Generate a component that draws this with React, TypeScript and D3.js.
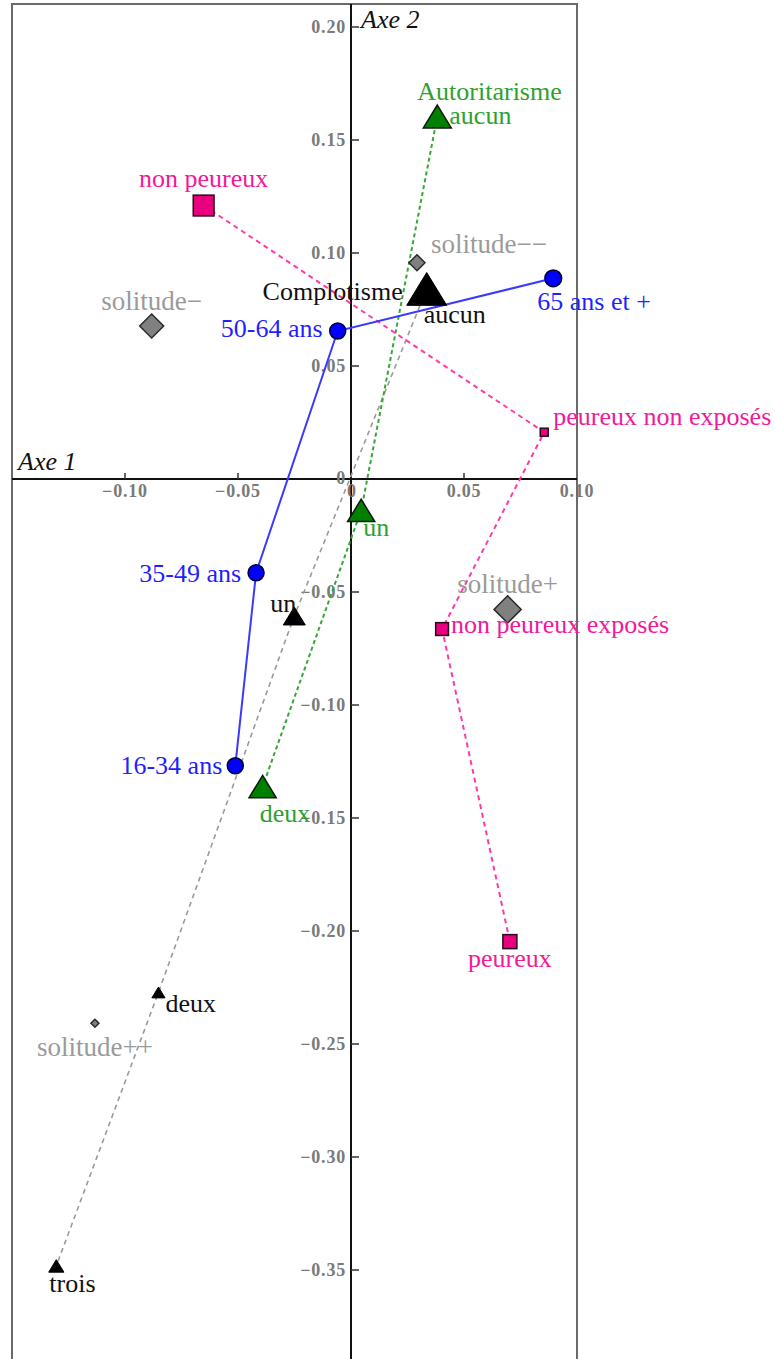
import React from "react";
import * as d3 from "d3";

// ---- Data (coordinates on factorial axes) ----
const ageLabels = ["65 ans et +", "50-64 ans", "35-49 ans", "16-34 ans"];
const ageAxe1 = [0.0895, -0.0059, -0.042, -0.0512];
const ageAxe2 = [0.0888, 0.0655, -0.0415, -0.1269];
const ageWeight = [4.2, 4.0, 4.0, 4.0];

const peurLabels = ["non peureux", "peureux non exposés", "non peureux exposés", "peureux"];
const peurAxe1 = [-0.0652, 0.0855, 0.0403, 0.0703];
const peurAxe2 = [0.121, 0.0207, -0.0664, -0.2047];
const peurWeight = [5.2, 2.0, 3.2, 3.5];

const autoLabels = ["aucun", "un", "deux"];
const autoAxe1 = [0.0382, 0.0045, -0.0391];
const autoAxe2 = [0.1604, -0.0139, -0.1361];
const autoWeight = [7.0, 6.8, 6.8];

const complLabels = ["aucun", "un", "deux", "trois"];
const complAxe1 = [0.0335, -0.0251, -0.0852, -0.1304];
const complAxe2 = [0.0841, -0.0606, -0.2272, -0.3482];
const complWeight = [10.0, 5.5, 3.3, 3.8];

const solLabels = ["solitude−−", "solitude−", "solitude+", "solitude++"];
const solAxe1 = [0.0292, -0.0882, 0.0693, -0.1133];
const solAxe2 = [0.0957, 0.0677, -0.0577, -0.2408];
const solWeight = [4.0, 6.0, 6.8, 2.0];

const xTicks = [-0.1, -0.05, 0, 0.05, 0.1];
const yTicks = [0.2, 0.15, 0.1, 0.05, 0, -0.05, -0.1, -0.15, -0.2, -0.25, -0.3, -0.35];

// ---- Layout (label placement in px relative to the point) ----
const ageLabelPos = [
  { dx: -16, dy: 32, a: "start" },
  { dx: -15, dy: 6, a: "end" },
  { dx: -15, dy: 9, a: "end" },
  { dx: -13, dy: 8, a: "end" },
];
const peurLabelPos = [
  { dx: 0, dy: -19, a: "middle" },
  { dx: 9, dy: -7, a: "start" },
  { dx: 9, dy: 4, a: "start" },
  { dx: 0, dy: 25, a: "middle" },
];
const autoLabelPos = [
  { dx: 12, dy: 8, a: "start" },
  { dx: 2, dy: 26, a: "start" },
  { dx: -3, dy: 35, a: "start" },
];
const complLabelPos = [
  { dx: -3, dy: 34, a: "start" },
  { dx: 2, dy: -4, a: "end" },
  { dx: 7, dy: 20, a: "start" },
  { dx: -7, dy: 26, a: "start" },
];
const solLabelPos = [
  { dx: 14, dy: -10, a: "start" },
  { dx: 0, dy: -16, a: "middle" },
  { dx: 0, dy: -16, a: "middle" },
  { dx: 0, dy: 33, a: "middle" },
];

const W = 775;
const H = 1359;
const FONT = "'Liberation Serif', 'Times New Roman', serif";

const x = d3.scaleLinear().domain([-0.15, 0.1]).range([12, 577]);
const y = d3.scaleLinear().domain([0.21, -0.39]).range([4.4, 1360.4]);
const size = d3.scaleLinear().domain([0, 10]).range([0, 40]);

const fmt = (v: number) => (Math.abs(v) < 1e-9 ? "0" : d3.format(".2f")(v).replace("-", "−"));

function tri(cx: number, cy: number, w: number) {
  const h = w * 0.82;
  return `M${cx},${cy - h / 2}L${cx + w / 2},${cy + h / 2}L${cx - w / 2},${cy + h / 2}Z`;
}
function diamond(cx: number, cy: number, r: number) {
  return `M${cx},${cy - r}L${cx + r},${cy}L${cx},${cy + r}L${cx - r},${cy}Z`;
}

const line = d3
  .line<[number, number]>()
  .x((d) => x(d[0]))
  .y((d) => y(d[1]));

function pts(a: number[], b: number[]): [number, number][] {
  return a.map((v, i) => [v, b[i]]);
}

export default function App() {
  const x0 = x(0);
  const y0 = y(0);
  const blue = "#1f1fff";
  const pink = "#f2199a";
  const green = "#2ea02e";
  const gray = "#9a9a9a";
  const tickFill = "#7a7a7a";

  return (
    <svg
      width={W}
      height={H}
      style={{ position: "absolute", left: 0, top: 0, background: "#fff" }}
      fontFamily={FONT}
    >
      <rect x={0} y={0} width={W} height={H} fill="#fff" />
      {/* frame */}
      <rect x={12} y={4} width={565} height={1400} fill="none" stroke="#6a6a6a" strokeWidth={2} />
      {/* axes */}
      <line x1={12} x2={577} y1={y0} y2={y0} stroke="#111" strokeWidth={2} />
      <line x1={x0} x2={x0} y1={4} y2={H} stroke="#111" strokeWidth={2} />
      {xTicks.filter((t) => t !== 0 && t !== 0.1).map((t) => (
        <line key={"xt" + t} x1={x(t)} x2={x(t)} y1={y0} y2={y0 - 6} stroke="#333" strokeWidth={1.5} />
      ))}
      {yTicks.filter((t) => t !== 0).map((t) => (
        <line key={"yt" + t} x1={x0} x2={x0 + 8} y1={y(t)} y2={y(t)} stroke="#333" strokeWidth={1.5} />
      ))}
      {xTicks.map((t) => (
        <text
          key={"xl" + t}
          x={x(t) + (t === 0 ? 1 : 0)}
          y={y0 + 18}
          textAnchor="middle"
          fontSize={18}
          fontWeight="bold"
          letterSpacing={0.8}
          fill={tickFill}
        >
          {fmt(t)}
        </text>
      ))}
      {yTicks.map((t) => (
        <text
          key={"yl" + t}
          x={x0 - 5}
          y={y(t) + (t === 0 ? 5 : 6)}
          textAnchor="end"
          fontSize={18}
          fontWeight="bold"
          letterSpacing={0.8}
          fill={tickFill}
        >
          {fmt(t)}
        </text>
      ))}
      <text x={18} y={470} fontSize={26} fontStyle="italic" fill="#111">
        Axe 1
      </text>
      <text x={361} y={28} fontSize={26} fontStyle="italic" fill="#111">
        Axe 2
      </text>

      {/* connecting lines */}
      <path d={line(pts(complAxe1, complAxe2)) || ""} fill="none" stroke="#9a9a9a" strokeWidth={1.6} strokeDasharray="5,4" />
      <path d={line(pts(autoAxe1, autoAxe2)) || ""} fill="none" stroke="#33a833" strokeWidth={2} strokeDasharray="4,3" />
      <path d={line(pts(peurAxe1, peurAxe2)) || ""} fill="none" stroke="#ff3aa8" strokeWidth={2} strokeDasharray="5,4" />
      <path d={line(pts(ageAxe1, ageAxe2)) || ""} fill="none" stroke="#3a3aff" strokeWidth={2} />

      {/* solitude diamonds */}
      {solAxe1.map((v, i) => (
        <path key={"sd" + i} d={diamond(x(v), y(solAxe2[i]), size(solWeight[i]) / 2)} fill="#808080" stroke="#2a2a2a" strokeWidth={1.5} />
      ))}
      {/* complotisme triangles */}
      {complAxe1.map((v, i) => (
        <path key={"ct" + i} d={tri(x(v), y(complAxe2[i]), size(complWeight[i]))} fill="#000" stroke="#000" strokeWidth={1} />
      ))}
      {/* autoritarisme triangles */}
      {autoAxe1.map((v, i) => (
        <path key={"at" + i} d={tri(x(v), y(autoAxe2[i]), size(autoWeight[i]))} fill="#008000" stroke="#0a1a0a" strokeWidth={1.5} />
      ))}
      {/* peur squares */}
      {peurAxe1.map((v, i) => {
        const s = size(peurWeight[i]);
        return (
          <rect key={"ps" + i} x={x(v) - s / 2} y={y(peurAxe2[i]) - s / 2} width={s} height={s} fill="#e8007f" stroke="#2a0a1a" strokeWidth={1.5} />
        );
      })}
      {/* age circles */}
      {ageAxe1.map((v, i) => (
        <circle key={"ac" + i} cx={x(v)} cy={y(ageAxe2[i])} r={size(ageWeight[i]) / 2} fill="#0000ff" stroke="#000033" strokeWidth={1.5} />
      ))}

      {/* labels */}
      {ageLabels.map((l, i) => (
        <text key={"al" + i} x={x(ageAxe1[i]) + ageLabelPos[i].dx} y={y(ageAxe2[i]) + ageLabelPos[i].dy} textAnchor={ageLabelPos[i].a as any} fontSize={26} fill={blue}>
          {l}
        </text>
      ))}
      {peurLabels.map((l, i) => (
        <text key={"pl" + i} x={x(peurAxe1[i]) + peurLabelPos[i].dx} y={y(peurAxe2[i]) + peurLabelPos[i].dy} textAnchor={peurLabelPos[i].a as any} fontSize={26} fill={pink}>
          {l}
        </text>
      ))}
      <text x={x(autoAxe1[0]) - 20} y={y(autoAxe2[0]) - 16} fontSize={26} fill={green}>
        Autoritarisme
      </text>
      {autoLabels.map((l, i) => (
        <text key={"tl" + i} x={x(autoAxe1[i]) + autoLabelPos[i].dx} y={y(autoAxe2[i]) + autoLabelPos[i].dy} textAnchor={autoLabelPos[i].a as any} fontSize={26} fill={green}>
          {l}
        </text>
      ))}
      <text x={x(complAxe1[0]) - 24} y={y(complAxe2[0]) + 11} textAnchor="end" fontSize={26} fill="#111">
        Complotisme
      </text>
      {complLabels.map((l, i) => (
        <text key={"cl" + i} x={x(complAxe1[i]) + complLabelPos[i].dx} y={y(complAxe2[i]) + complLabelPos[i].dy} textAnchor={complLabelPos[i].a as any} fontSize={26} fill="#111">
          {l}
        </text>
      ))}
      {solLabels.map((l, i) => (
        <text key={"sl" + i} x={x(solAxe1[i]) + solLabelPos[i].dx} y={y(solAxe2[i]) + solLabelPos[i].dy} textAnchor={solLabelPos[i].a as any} fontSize={27} fill={gray}>
          {l}
        </text>
      ))}
    </svg>
  );
}
